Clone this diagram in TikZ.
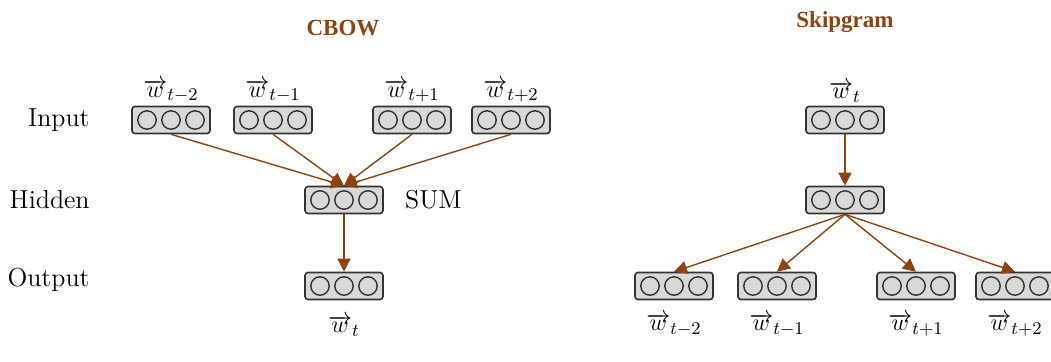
\documentclass[tikz,border=0pt]{standalone}
\usepackage{fontspec}
\usepackage{tikz}
\usetikzlibrary{calc,arrows.meta,positioning}
\newfontfamily\titlefont{Liberation Serif}
\definecolor{netbrown}{RGB}{139,69,19}
\definecolor{boxgray}{RGB}{217,217,217}
\begin{document}
\begin{tikzpicture}[x=0.5pt,y=-0.5pt,
    vecbox/.style={draw=black!80, line width=0.8pt, fill=boxgray, rounded corners=1.5pt,
        minimum width=39pt, minimum height=13.5pt, inner sep=0pt},
    flow/.style={-{Triangle[length=6.5pt,width=6.5pt]}, draw=netbrown, line width=0.7pt},
    layer/.style={anchor=east, inner sep=0pt, font=\fontsize{13}{15}\selectfont},
    wlabel/.style={font=\fontsize{13}{15}\selectfont, inner sep=0.5pt},
    title/.style={font=\titlefont\fontsize{11.5}{13}\selectfont\bfseries, text=netbrown}]
    \useasboundingbox (0,0) rectangle (1051,361);

    % CBOW
    \begin{scope}
        \node[title] (cbow) at (343,28) {CBOW};

        % layer names
        \node[layer] (lin) at (90,120) {Input};
        \node[layer] (lhid) at (90,200) {Hidden};
        \node[layer] (lout) at (90,280) {Output};

        % context words
        \node[vecbox] (in1) at (171,120) {};
        \node[vecbox] (in2) at (273,120) {};
        \node[vecbox] (in3) at (412,120) {};
        \node[vecbox] (in4) at (511,120) {};
        \node[wlabel, above=1pt of in1] (win1) {$\overrightarrow{w}_{t-2}$};
        \node[wlabel, above=1pt of in2] (win2) {$\overrightarrow{w}_{t-1}$};
        \node[wlabel, above=1pt of in3] (win3) {$\overrightarrow{w}_{t+1}$};
        \node[wlabel, above=1pt of in4] (win4) {$\overrightarrow{w}_{t+2}$};

        % hidden and output
        \node[vecbox] (hid) at (344,200) {};
        \node[wlabel, right=10pt of hid] (sum) {SUM};
        \node[vecbox] (out) at (344,286) {};
        \node[wlabel, below=7pt of out] (wout) {$\overrightarrow{w}_{t}$};

        \foreach \b in {in1,in2,in3,in4}
            \draw[flow] (\b.south) -- (hid.north);
        \draw[flow] (hid.south) -- (out.north);
    \end{scope}

    % Skipgram
    \begin{scope}
        \node[title] (skip) at (845,22) {Skipgram};

        % center word
        \node[vecbox] (sin) at (845,120) {};
        \node[wlabel, above=1pt of sin] (wsin) {$\overrightarrow{w}_{t}$};
        \node[vecbox] (shid) at (845,200) {};

        % context words
        \node[vecbox] (sout1) at (674,286) {};
        \node[vecbox] (sout2) at (777,286) {};
        \node[vecbox] (sout3) at (916,286) {};
        \node[vecbox] (sout4) at (1015,286) {};
        \node[wlabel, below=6pt of sout1] (wsout1) {$\overrightarrow{w}_{t-2}$};
        \node[wlabel, below=6pt of sout2] (wsout2) {$\overrightarrow{w}_{t-1}$};
        \node[wlabel, below=6pt of sout3] (wsout3) {$\overrightarrow{w}_{t+1}$};
        \node[wlabel, below=6pt of sout4] (wsout4) {$\overrightarrow{w}_{t+2}$};

        \draw[flow] (sin.south) -- (shid.north);
        \foreach \b in {sout1,sout2,sout3,sout4}
            \draw[flow] (shid.south) -- (\b.north);
    \end{scope}

    % units inside every box
    \foreach \b in {in1,in2,in3,in4,hid,out,sin,shid,sout1,sout2,sout3,sout4}
        \foreach \k in {-1,0,1}
            \draw[black!80, line width=0.7pt, fill=boxgray] ($(\b)+(\k*24,0)$) circle (4.6pt);
\end{tikzpicture}
\end{document}
